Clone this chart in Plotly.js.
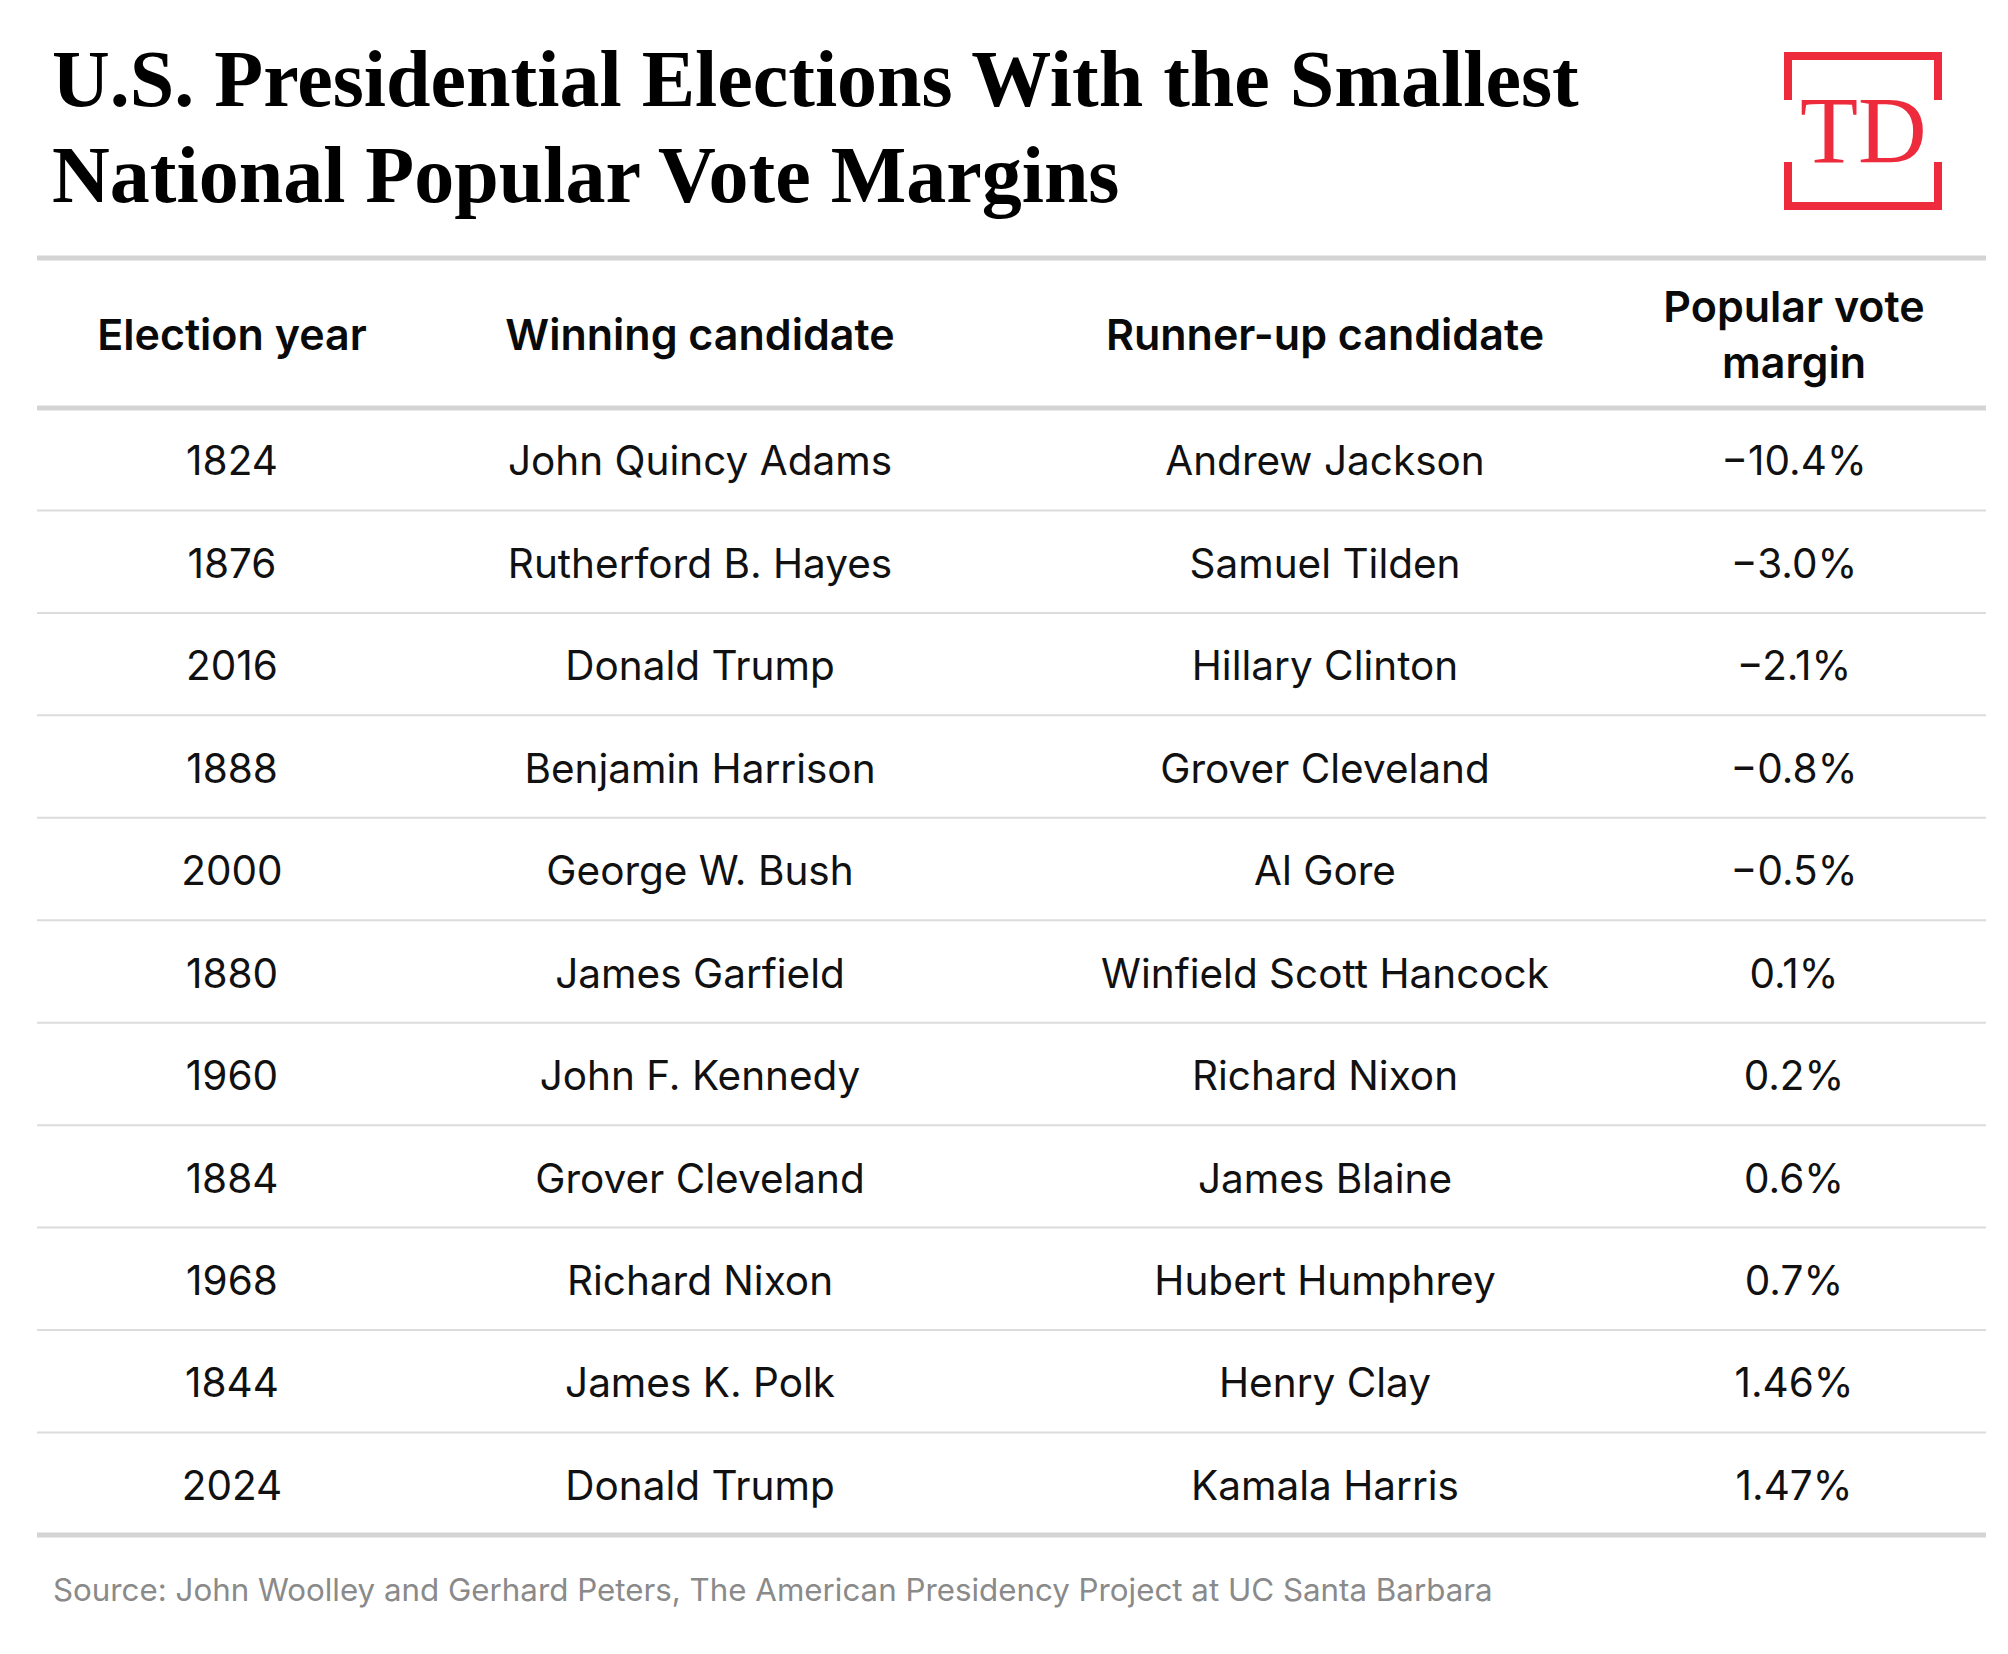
<!DOCTYPE html>
<html>
<head>
<meta charset="utf-8">
<script src="https://cdn.plot.ly/plotly-3.0.1.min.js"></script>
<style>html,body{margin:0;padding:0;background:#fff;}#chart{width:2008px;height:1654px;}</style>
</head>
<body>
<div id="chart"></div>
<script>
// ---- data ----
const columnHeaders = ["Election year", "Winning candidate", "Runner-up candidate", "Popular vote<br>margin"];
const years = ["1824", "1876", "2016", "1888", "2000", "1880", "1960", "1884", "1968", "1844", "2024"];
const winners = ["John Quincy Adams", "Rutherford B. Hayes", "Donald Trump", "Benjamin Harrison", "George W. Bush",
  "James Garfield", "John F. Kennedy", "Grover Cleveland", "Richard Nixon", "James K. Polk", "Donald Trump"];
const runnersUp = ["Andrew Jackson", "Samuel Tilden", "Hillary Clinton", "Grover Cleveland", "Al Gore",
  "Winfield Scott Hancock", "Richard Nixon", "James Blaine", "Hubert Humphrey", "Henry Clay", "Kamala Harris"];
const margins = [-10.4, -3.0, -2.1, -0.8, -0.5, 0.1, 0.2, 0.6, 0.7, 1.46, 1.47];
const titleLines = ["U.S. Presidential Elections With the Smallest", "National Popular Vote Margins"];
const sourceText = "Source: John Woolley and Gerhard Peters, The American Presidency Project at UC Santa Barbara";

// ---- layout constants ----
const W = 2008, H = 1654;
const colX = [232, 700, 1325, 1794];     // column centres in px
const rowTop = 408, rowH = 102.45;         // first body row top & row pitch in px
const lineX0 = 37, lineX1 = 1986;
const BODY_FONT = "Inter, 'Noto Sans', sans-serif";
const SERIF = "'Liberation Serif', 'DejaVu Serif', serif";

function fmtMargin(v) {
  const two = Math.abs(v * 10 - Math.round(v * 10)) > 1e-9;
  const s = Math.abs(v).toFixed(two ? 2 : 1) + "%";
  return (v < 0 ? "\u2212" : "") + s;
}
const marginLabels = margins.map(fmtMargin);

// y axis in row units: row i centre at px rowTop + rowH*(i+0.5)
const y0px = rowTop + rowH * 0.5;
const yRange = [(H - y0px) / rowH, -y0px / rowH];
const pxToRow = p => (p - y0px) / rowH;
const py = p => 1 - p / H;
const textNudge = 6 / rowH;

const rows = years.map((_, i) => i);
const columns = [years, winners, runnersUp, marginLabels];

const traces = columns.map((col, c) => ({
  type: "scatter", mode: "text",
  x: col.map(() => colX[c]), y: rows.map(r => r + textNudge), text: col,
  textposition: "middle center",
  textfont: {family: BODY_FONT, size: 40.5, color: "#111"},
  hoverinfo: "skip", showlegend: false, cliponaxis: false
}));

// header row
traces.push({
  type: "scatter", mode: "text",
  x: colX, y: columnHeaders.map(() => pxToRow(339)), text: columnHeaders,
  textposition: "middle center",
  textfont: {family: BODY_FONT, size: 43, color: "#0a0a0a", weight: 600},
  hoverinfo: "skip", showlegend: false, cliponaxis: false
});

const shapes = [];
// top thick rule
shapes.push({type: "line", xref: "x", yref: "paper", x0: lineX0, x1: lineX1, y0: py(258), y1: py(258),
  line: {color: "#d4d4d4", width: 5}});
// header bottom and table bottom thick rules, thin row separators
for (let i = 0; i <= years.length; i++) {
  const thick = (i === 0 || i === years.length);
  shapes.push({type: "line", xref: "x", yref: "y", x0: lineX0, x1: lineX1, y0: i - 0.5, y1: i - 0.5,
    line: {color: thick ? "#d4d4d4" : "#dcdcdc", width: thick ? 5 : 2}});
}
// TD logo brackets
const red = "#ee2b3c";
const lx0 = 1788, lx1 = 1938, ly0 = 56, ly1 = 206;
shapes.push({type: "path", xref: "x", yref: "paper",
  path: `M ${lx0},${py(100)} L ${lx0},${py(ly0)} L ${lx1},${py(ly0)} L ${lx1},${py(100)}`,
  line: {color: red, width: 8}});
shapes.push({type: "path", xref: "x", yref: "paper",
  path: `M ${lx0},${py(162)} L ${lx0},${py(ly1)} L ${lx1},${py(ly1)} L ${lx1},${py(162)}`,
  line: {color: red, width: 8}});

const titleTops = [33, 129];
const annotations = titleLines.map((t, k) => ({
  text: t, xref: "paper", yref: "paper", x: 50 / W, y: py(titleTops[k]), xanchor: "left", yanchor: "top",
  align: "left", showarrow: false, font: {family: SERIF, size: 80, color: "#000", weight: 700}
}));
annotations.push(
  {text: "TD", xref: "x", yref: "paper", x: 1863, y: py(131), xanchor: "center", yanchor: "middle",
   showarrow: false, font: {family: SERIF, size: 95, color: red}},
  {text: sourceText, xref: "paper", yref: "paper", x: 51 / W, y: py(1590), xanchor: "left", yanchor: "middle",
   showarrow: false, font: {family: BODY_FONT, size: 31.3, color: "#8a8a8a"}}
);

const layout = {
  width: W, height: H,
  margin: {l: 0, r: 0, t: 0, b: 0, pad: 0},
  paper_bgcolor: "#fff", plot_bgcolor: "#fff",
  xaxis: {range: [0, W], visible: false, fixedrange: true},
  yaxis: {range: yRange, visible: false, fixedrange: true},
  shapes: shapes, annotations: annotations, showlegend: false
};

Plotly.newPlot("chart", traces, layout, {displayModeBar: false, staticPlot: true});
</script>
</body>
</html>
